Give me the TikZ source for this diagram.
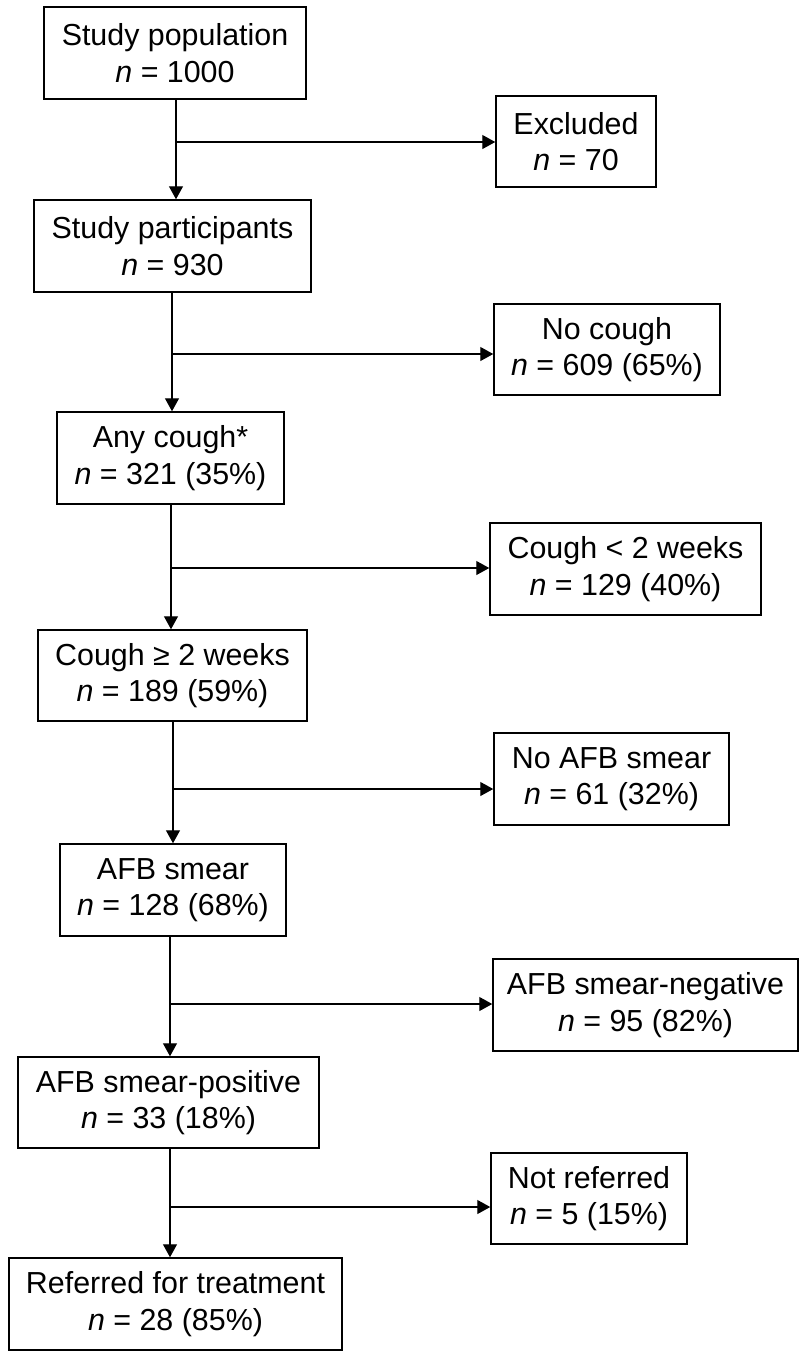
\documentclass[tikz,border=0pt]{standalone}
\usepackage{fontspec}
\setmainfont{Liberation Sans}
\usetikzlibrary{arrows.meta}
\begin{document}
\begin{tikzpicture}[x=0.5pt,y=-0.5pt,
  box/.style={draw=black, line width=0.75pt, inner sep=0pt, align=center,
    font=\fontsize{15.2}{18.3}\selectfont},
  conn/.style={draw=black, line width=0.65pt},
  arr/.style={conn, -{Triangle[length=6.5pt,width=7pt]}}]
\useasboundingbox (0,0) rectangle (800,1351);
% left column
\node[box, minimum width=131pt, minimum height=46pt] (pop) at (175,53) {Study population\\\textit{n} = 1000};
\node[box, minimum width=138.5pt, minimum height=46pt] (part) at (172.5,246) {Study participants\\\textit{n} = 930};
\node[box, minimum width=113.5pt, minimum height=46pt] (any) at (170.5,458) {Any cough*\\\textit{n} = 321 (35\%)};
\node[box, minimum width=134.5pt, minimum height=45.5pt] (ge2) at (172.5,675.5) {Cough ≥ 2 weeks\\\textit{n} = 189 (59\%)};
\node[box, minimum width=113pt, minimum height=46pt] (afb) at (173,890) {AFB smear\\\textit{n} = 128 (68\%)};
\node[box, minimum width=150.5pt, minimum height=45.5pt] (pos) at (168.5,1102.5) {AFB smear-positive\\\textit{n} = 33 (18\%)};
\node[box, minimum width=166.5pt, minimum height=46pt] (ref) at (175.5,1304) {Referred for treatment\\\textit{n} = 28 (85\%)};
% right column
\node[box, minimum width=80pt, minimum height=45.5pt] (excl) at (576,141.5) {Excluded\\\textit{n} = 70};
\node[box, minimum width=113pt, minimum height=45.5pt] (nocough) at (607,349.5) {No cough\\\textit{n} = 609 (65\%)};
\node[box, minimum width=135.5pt, minimum height=46pt] (lt2) at (625.5,569) {Cough < 2 weeks\\\textit{n} = 129 (40\%)};
\node[box, minimum width=117.5pt, minimum height=46pt] (noafb) at (611.5,779) {No AFB smear\\\textit{n} = 61 (32\%)};
\node[box, minimum width=152.5pt, minimum height=46pt] (neg) at (645.5,1005) {AFB smear-negative\\\textit{n} = 95 (82\%)};
\node[box, minimum width=98pt, minimum height=45.5pt] (notref) at (589,1198.5) {Not referred\\\textit{n} = 5 (15\%)};
% branch points
\coordinate (b1) at (176,142);
\coordinate (b2) at (172,354);
\coordinate (b3) at (171,568);
\coordinate (b4) at (173,789);
\coordinate (b5) at (170,1004);
\coordinate (b6) at (170,1207);
% connectors
\draw[arr] (b1 |- pop.south) -- (b1 |- part.north);
\draw[arr] (b1) -- (b1 -| excl.west);
\draw[arr] (b2 |- part.south) -- (b2 |- any.north);
\draw[arr] (b2) -- (b2 -| nocough.west);
\draw[arr] (b3 |- any.south) -- (b3 |- ge2.north);
\draw[arr] (b3) -- (b3 -| lt2.west);
\draw[arr] (b4 |- ge2.south) -- (b4 |- afb.north);
\draw[arr] (b4) -- (b4 -| noafb.west);
\draw[arr] (b5 |- afb.south) -- (b5 |- pos.north);
\draw[arr] (b5) -- (b5 -| neg.west);
\draw[arr] (b6 |- pos.south) -- (b6 |- ref.north);
\draw[arr] (b6) -- (b6 -| notref.west);
\end{tikzpicture}
\end{document}
